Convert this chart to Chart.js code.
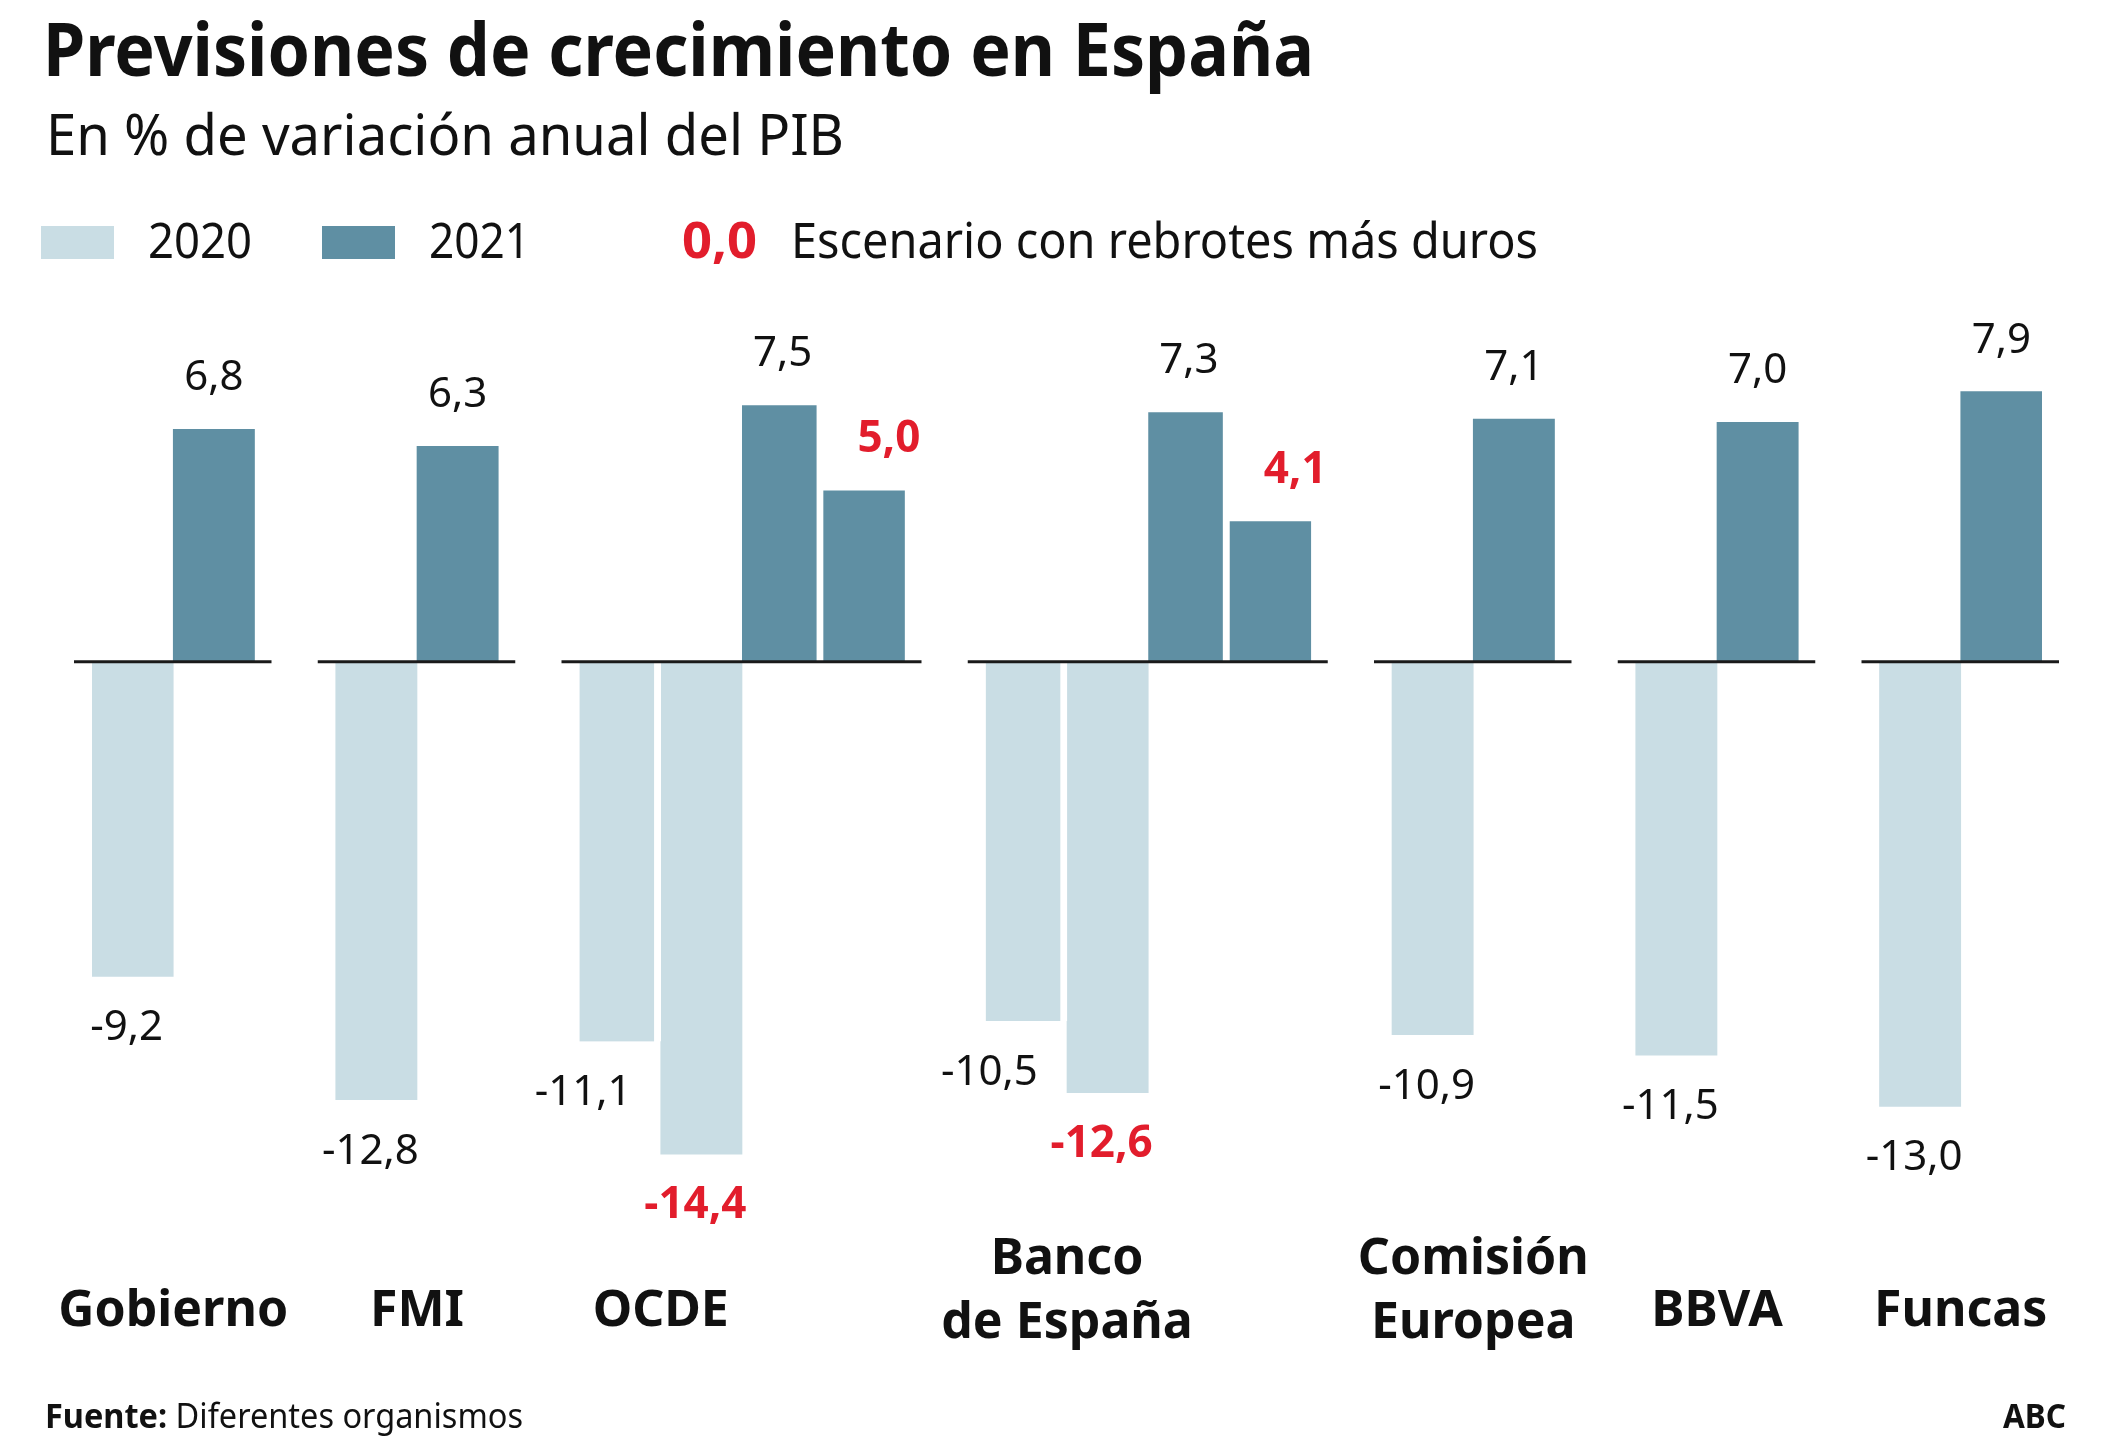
<!DOCTYPE html>
<html lang="es">
<head>
<meta charset="utf-8">
<title>Previsiones de crecimiento en España</title>
<script src="https://cdn.jsdelivr.net/npm/chart.js@4.4.1/dist/chart.umd.min.js"></script>
<style>
  html, body { margin: 0; padding: 0; background: #fff; }
  body { width: 2125px; height: 1455px; position: relative; overflow: hidden; font-family: 'Noto Sans', 'Open Sans', sans-serif; color: #111; }
  #grafico { position: absolute; left: 0; top: 0; }
  .txt { position: absolute; white-space: nowrap; line-height: 1; transform-origin: 0 0; }
  .caja { position: absolute; width: 73px; height: 33px; top: 226px; }
</style>
</head>
<body>
<canvas id="grafico" width="2125" height="1455"></canvas>

<div class="txt" style="left:43px; top:11px; font-size:73px; font-weight:700;" data-w="1271">Previsiones de crecimiento en España</div>
<div class="txt" style="left:46px; top:105px; font-size:57px;" data-w="798">En % de variación anual del PIB</div>

<div class="caja" style="left:41px; background:#c9dde4;"></div>
<div class="txt" style="left:148px; top:214px; font-size:50px;" data-w="104">2020</div>
<div class="caja" style="left:322px; background:#5f8fa3;"></div>
<div class="txt" style="left:429px; top:214px; font-size:50px;" data-w="101">2021</div>
<div class="txt" style="left:682px; top:214px; font-size:50px; font-weight:700; color:#e21d2c;" data-w="75">0,0</div>
<div class="txt" style="left:791px; top:214px; font-size:50px;" data-w="747">Escenario con rebrotes más duros</div>

<div class="txt" style="left:45px; top:1398px; font-size:34px;" data-w="478"><b>Fuente:</b> Diferentes organismos</div>
<div class="txt" style="left:2003px; top:1398px; font-size:34px; font-weight:700;" data-w="63">ABC</div>

<script>
const organismos = ['Gobierno', 'FMI', 'OCDE', 'Banco de España', 'Comisión Europea', 'BBVA', 'Funcas'];
const etiquetasEje = [['Gobierno'], ['FMI'], ['OCDE'], ['Banco', 'de España'], ['Comisión', 'Europea'], ['BBVA'], ['Funcas']];
const pib2020 = [-9.2, -12.8, -11.1, -10.5, -10.9, -11.5, -13.0];
const pib2021 = [6.8, 6.3, 7.5, 7.3, 7.1, 7.0, 7.9];
// escenario con rebrotes más duros (solo OCDE y Banco de España)
const pib2020Duro = [null, null, -14.4, -12.6, null, null, null];
const pib2021Duro = [null, null, 5.0, 4.1, null, null, null];

const CLARO = '#c9dde4';
const OSCURO = '#5f8fa3';
const ROJO = '#e21d2c';

// one slot per bar, one empty slot between organisms
const slots = [];
const inicio = [];
const fin = [];
organismos.forEach((org, i) => {
  if (i > 0) slots.push({ serie: null, org: i });
  inicio.push(slots.length);
  slots.push({ serie: '2020', org: i });
  if (pib2020Duro[i] !== null) slots.push({ serie: '2020d', org: i });
  slots.push({ serie: '2021', org: i });
  if (pib2021Duro[i] !== null) slots.push({ serie: '2021d', org: i });
  fin.push(slots.length - 1);
});

const serie = (nombre, valores) => slots.map(s => s.serie === nombre ? valores[s.org] : null);
const tieneDuro = k => pib2020Duro[slots[k].org] !== null;
const huecoBlanco = c => tieneDuro(c.dataIndex) ? { right: 7 } : 0;

const fmt = v => v.toFixed(1).replace('.', ',');

const rotulos = {
  id: 'rotulos',
  afterDatasetsDraw(chart) {
    const { ctx, chartArea, scales: { x, y } } = chart;
    const paso = x.getPixelForValue(1) - x.getPixelForValue(0);
    const y0 = y.getPixelForValue(0);
    ctx.save();

    // zero line, one piece per organism
    ctx.strokeStyle = '#1a1a1a';
    ctx.lineWidth = 3;
    organismos.forEach((org, i) => {
      const a = x.getPixelForValue(inicio[i]) - paso / 2 - 18;
      const b = x.getPixelForValue(fin[i]) + paso / 2 + 17;
      ctx.beginPath();
      ctx.moveTo(a, y0);
      ctx.lineTo(b, y0);
      ctx.stroke();
    });

    // values
    ctx.textAlign = 'center';
    ctx.textBaseline = 'alphabetic';
    chart.data.datasets.forEach((ds, d) => {
      const duro = ds.label.includes('duro');
      chart.getDatasetMeta(d).data.forEach((bar, k) => {
        const v = ds.data[k];
        if (v === null) return;
        ctx.fillStyle = duro ? ROJO : '#111';
        ctx.font = duro ? '700 44px "Noto Sans"' : '400 42px "Noto Sans"';
        let dx = v < 0 ? -6 : 0;
        if (!duro && v < 0 && tieneDuro(k)) dx = -37;
        if (duro && v > 0) dx = 25;
        const yy = v >= 0 ? bar.y - 39 : bar.y + 64;
        ctx.fillText(fmt(v), bar.x + dx, yy);
      });
    });

    // organism names, centred under the 2020 bars
    ctx.fillStyle = '#111';
    ctx.font = '700 50px "Noto Sans"';
    etiquetasEje.forEach((lineas, i) => {
      const cx = (x.getPixelForValue(inicio[i]) + x.getPixelForValue(inicio[i] + 1)) / 2;
      if (lineas.length === 1) {
        ctx.fillText(lineas[0], cx, chartArea.bottom + 117);
      } else {
        ctx.fillText(lineas[0], cx, chartArea.bottom + 65);
        ctx.fillText(lineas[1], cx, chartArea.bottom + 129);
      }
    });
    ctx.restore();
  }
};

new Chart(document.getElementById('grafico').getContext('2d'), {
  type: 'bar',
  data: {
    labels: slots.map(s => s.serie ? organismos[s.org] + ' ' + s.serie : ''),
    datasets: [
      { label: '2020', data: serie('2020', pib2020), backgroundColor: CLARO, borderColor: '#fff', borderWidth: huecoBlanco },
      { label: '2020 duro', data: serie('2020d', pib2020Duro), backgroundColor: CLARO },
      { label: '2021', data: serie('2021', pib2021), backgroundColor: OSCURO, borderColor: '#fff', borderWidth: huecoBlanco },
      { label: '2021 duro', data: serie('2021d', pib2021Duro), backgroundColor: OSCURO },
    ],
  },
  options: {
    responsive: false,
    animation: false,
    devicePixelRatio: 1,
    layout: { padding: { left: 92, right: 83, top: 354, bottom: 246 } },
    datasets: { bar: { grouped: false, barPercentage: 1, categoryPercentage: 1 } },
    scales: {
      x: { display: false },
      y: { display: false, min: -16, max: 9 },
    },
    plugins: { legend: { display: false }, tooltip: { enabled: false } },
  },
  plugins: [rotulos],
});

// squeeze header/footer texts to the widths of the original lettering
document.querySelectorAll('[data-w]').forEach(el => {
  const w = el.getBoundingClientRect().width;
  el.style.transform = `scaleX(${el.dataset.w / w})`;
});
</script>
</body>
</html>
